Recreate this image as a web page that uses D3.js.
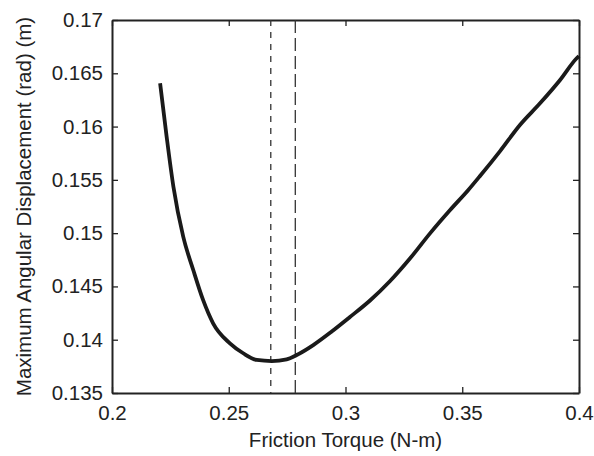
<!DOCTYPE html>
<html>
<head>
<meta charset="utf-8">
<script src="https://cdn.jsdelivr.net/npm/d3@7"></script>
<style>
  body { margin: 0; background: #fff; }
  text { font-family: "Liberation Sans", Arial, sans-serif; fill: #222; }
</style>
</head>
<body>
<svg id="chart" width="594" height="456"></svg>
<script>
// friction torque (N-m) vs max angular displacement
const torque = [0.2206, 0.2234, 0.2263, 0.2305, 0.2348, 0.2390, 0.2433, 0.2505, 0.2562, 0.2620,
  0.2684, 0.2748, 0.2791, 0.2862, 0.2941, 0.3019, 0.3105, 0.3191, 0.3276, 0.3362,
  0.3448, 0.3526, 0.3576, 0.3662, 0.3747, 0.3833, 0.3919, 0.3990, 0.4000];
const displacement = [0.16406, 0.15905, 0.15436, 0.14967, 0.14654, 0.14373, 0.14154, 0.13966, 0.13873, 0.1381,
  0.1380, 0.13816, 0.13857, 0.1395, 0.14077, 0.14213, 0.14368, 0.14551, 0.14762, 0.14998,
  0.15217, 0.15405, 0.15536, 0.1577, 0.16015, 0.16218, 0.16437, 0.16641, 0.16662];
// vertical reference lines
const markers = [0.268, 0.2785];
const xTicks = [0.2, 0.25, 0.3, 0.35, 0.4];
const yTicks = [0.135, 0.14, 0.145, 0.15, 0.155, 0.16, 0.165, 0.17];

const margin = {left: 112, right: 15, top: 20, bottom: 63};
const W = 594, H = 456;
const svg = d3.select('#chart');

const x = d3.scaleLinear().domain([0.2, 0.4]).range([margin.left, W - margin.right]);
const y = d3.scaleLinear().domain([0.135, 0.17]).range([H - margin.bottom, margin.top]);

const fmt = d => String(+d.toFixed(3));
const tickLen = 6;

// bottom axis
const gx = svg.append('g')
  .attr('transform', `translate(0,${y(0.135)})`)
  .call(d3.axisBottom(x).tickValues(xTicks).tickFormat(fmt).tickSizeInner(-tickLen).tickSizeOuter(0).tickPadding(12));
// left axis
const gy = svg.append('g')
  .attr('transform', `translate(${x(0.2)},0)`)
  .call(d3.axisLeft(y).tickValues(yTicks).tickFormat(fmt).tickSizeInner(-tickLen).tickSizeOuter(0).tickPadding(9));
// top and right (ticks only)
const gt = svg.append('g')
  .attr('transform', `translate(0,${y(0.17)})`)
  .call(d3.axisTop(x).tickValues(xTicks).tickFormat('').tickSizeInner(-tickLen).tickSizeOuter(0));
const gr = svg.append('g')
  .attr('transform', `translate(${x(0.4)},0)`)
  .call(d3.axisRight(y).tickValues(yTicks).tickFormat('').tickSizeInner(-tickLen).tickSizeOuter(0));

[gx, gy, gt, gr].forEach(g => {
  g.select('.domain').attr('stroke', '#222').attr('stroke-width', 2);
  g.selectAll('.tick line').attr('stroke', '#222').attr('stroke-width', 1.3);
  g.selectAll('.tick text').style('font-size', '20.5px').style('fill', '#222');
});
gx.selectAll('.tick text').attr('dy', '0.71em');

// dashed markers
svg.append('g').selectAll('line')
  .data(markers)
  .enter().append('line')
    .attr('x1', d => x(d)).attr('x2', d => x(d))
    .attr('y1', y(0.17)).attr('y2', y(0.135))
    .attr('stroke', '#333')
    .attr('stroke-width', 1.3)
    .attr('stroke-dasharray', (d, i) => i == 0 ? '6,6' : '13,5');

// curve
const line = d3.line()
  .x((d, i) => x(torque[i]))
  .y(d => y(d))
  .curve(d3.curveMonotoneX);
svg.append('path')
  .datum(displacement)
  .attr('d', line)
  .attr('fill', 'none')
  .attr('stroke', '#1a1a1a')
  .attr('stroke-width', 3.8)
  .attr('stroke-linejoin', 'round');

// axis labels
svg.append('text')
  .attr('x', (x(0.2) + x(0.4)) / 2)
  .attr('y', 447)
  .attr('text-anchor', 'middle')
  .style('font-size', '20.5px')
  .text('Friction Torque (N-m)');

svg.append('text')
  .attr('transform', `translate(31,${(y(0.135) + y(0.17)) / 2}) rotate(-90)`)
  .attr('text-anchor', 'middle')
  .style('font-size', '20.5px')
  .text('Maximum Angular Displacement (rad) (m)');
</script>
</body>
</html>
